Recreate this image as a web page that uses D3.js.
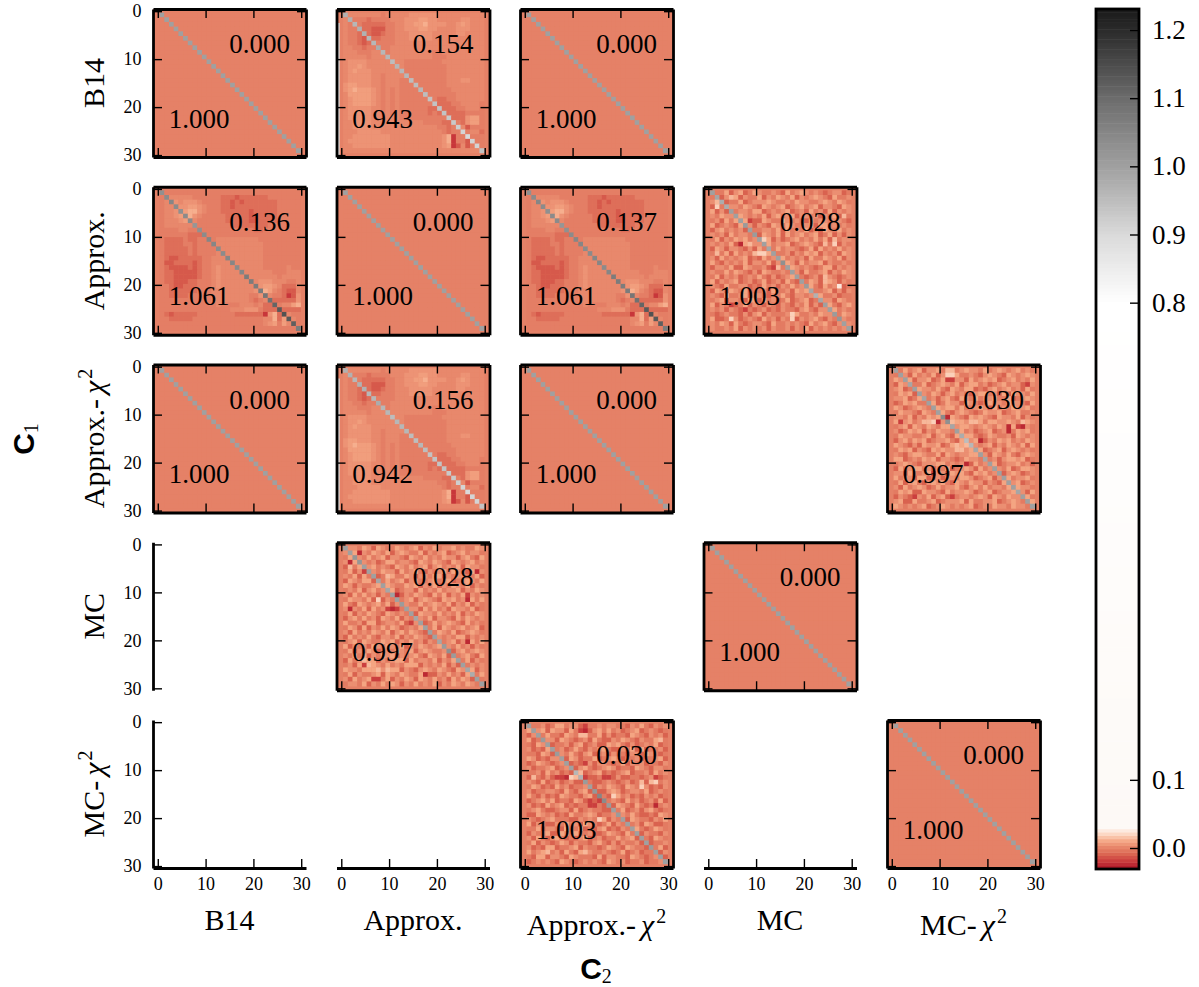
<!DOCTYPE html>
<html>
<head>
<meta charset="utf-8">
<script src="https://cdn.jsdelivr.net/npm/d3@7/dist/d3.min.js"></script>
<style>
html, body { margin: 0; padding: 0; background: #fff; }
svg { display: block; }
text { font-family: "Liberation Serif", serif; fill: #000; }
</style>
</head>
<body>
<script>
//============================================================
// Data
var names = ["B14", "Approx.", "Approx.-", "MC", "MC-"];
var hasChi = [false, false, true, false, true];
var tickValues = [0, 10, 20, 30];
var barTicks = [0, 0.1, 0.8, 0.9, 1.0, 1.1, 1.2];

// digit in a row string -> off-diagonal value
var noisyLevels = [-0.03, -0.024, -0.018, -0.01, -0.002, 0.004, 0.01, 0.014, 0.019, 0.025];
var smoothLevels = [-0.03, -0.02, -0.012, -0.006, -0.001, 0.002, 0.005, 0.008, 0.012, 0.02];

var approxB14Rows = [
"55555 55545 55556 66666 55555 55555",
"55444 34444 55566 67766 55555 66555",
"54443 33334 45566 77866 66556 76555",
"54433 32224 45566 67766 55556 66555",
"54433 32234 45556 66665 55556 65555",
"54432 23344 45556 66665 55555 55555",
"54432 33444 45555 55555 55555 55555",
"55443 44544 55555 55555 55555 55555",
"55544 45554 55555 55554 45555 55555",
"55555 45555 55555 55554 44555 55555",
"56666 55555 55544 44444 45555 55555",
"56676 55555 55544 44444 44555 55555",
"56766 65555 55544 44444 44555 55555",
"56666 65545 55544 44444 44555 55555",
"56666 65545 55444 44444 44555 66555",
"67766 65545 55444 44444 44555 55555",
"67877 76545 45444 44444 44455 55555",
"57777 76545 45444 44444 44445 55555",
"56777 76545 45444 44444 33445 55555",
"56777 76545 45444 44443 33344 55554",
"56666 65545 45444 44433 43334 45554",
"56666 65545 45444 44434 34333 34444",
"56666 65545 55444 44444 44333 36774",
"55666 65555 55555 55444 43324 36774",
"55666 65555 55555 55555 44344 52444",
"55566 66655 55555 55555 54344 54553",
"55666 66666 55555 55555 56814 45444",
"56666 66666 55555 55555 56814 42444",
"55666 66666 55555 55555 56712 52444",
"55555 55555 55555 55555 55555 55555"
];

var b14ApproxRows = [
"44444 44444 44444 44444 44444 44444",
"44555 55444 44433 32333 33344 44444",
"45565 66654 44433 23233 33333 44444",
"45566 67765 44433 23333 33333 44444",
"45566 78865 44433 33332 33333 44444",
"45567 88654 44443 33332 23333 44444",
"45556 76544 44443 33332 23333 44444",
"45555 55444 44444 33333 33344 44444",
"44445 54434 44444 44444 33444 44444",
"44444 43334 44444 44444 44444 44444",
"43333 43344 44555 55555 54444 44444",
"43333 44344 44555 55555 55444 44444",
"43333 34344 44555 55555 55444 44444",
"43333 34344 44555 55555 55444 44444",
"43223 33334 45555 55555 55444 44444",
"42233 33234 45555 55555 55444 44444",
"43222 23234 45655 55555 55444 44544",
"43322 22234 45655 55555 55554 44555",
"43322 22234 45655 55555 55555 45555",
"43322 23344 45655 55555 56665 55445",
"44322 33344 45655 55555 66776 53335",
"44333 33344 45555 55555 67875 43225",
"44333 34444 45555 55554 46754 43126",
"44444 44444 45555 55554 34543 33336",
"44444 44444 44544 44555 45333 45578",
"44444 44444 44444 55566 64333 33333",
"43233 33344 44444 43333 33168 37544",
"44333 33444 44444 44444 44558 37454",
"44444 44444 44444 44444 44567 47544",
"44444 44444 44444 44444 44444 44444"
];

var chiMcRows = [
"54645 63556 47745 65546 45654 56454",
"45536 45463 58864 45435 65436 54565",
"65463 55634 62255 36456 56345 64546",
"36554 46345 65463 56645 34564 55325",
"56345 65546 43654 66343 56456 45364",
"46563 35465 35645 43566 45363 65546",
"55634 66453 56436 54645 56446 34565",
"34656 44563 46553 65434 65546 55436",
"65345 65436 56646 44565 36454 65564",
"46554 36545 64356 54346 55634 56445",
"55463 54656 41654 36565 43655 46354",
"62564 57781 55766 57764 66556 54765",
"45636 54654 66456 65456 54651 62154",
"53465 63546 55436 45345 63451 46564",
"46554 45635 64365 66434 65445 36545",
"35646 56345 56436 45613 54656 45465",
"65435 36556 34676 76545 63546 54636",
"46563 54365 65577 56463 45635 65454",
"54356 65446 36545 56645 36546 43565",
"66345 46563 55434 65546 45356 65634",
"45654 35556 64545 13645 66345 56453",
"36456 64535 46345 65364 54546 34665",
"55364 45625 53656 43656 45635 65345",
"64553 66345 35546 65345 63546 45564",
"46356 43565 64365 46553 54365 56345",
"53645 65346 45564 35646 45546 36554",
"46563 36554 36455 65345 63455 64536",
"35432 54635 63245 54565 36546 55364",
"56336 44563 45556 36445 56345 65446",
"65454 56345 65454 56345 46554 65545"
];

var mcChiRows = [
"54453 46645 53244 54554 43546 43545",
"65563 65536 42135 64645 34563 45434",
"35546 44365 47744 63534 43654 35453",
"63445 53654 34536 43354 65435 44674",
"43654 34453 56345 33656 43534 54634",
"53436 64534 64354 56433 54636 34453",
"44365 33546 43563 45354 43553 65434",
"65343 55436 53446 34565 34453 44563",
"34654 34563 43253 55434 63545 34435",
"53445 63454 35643 45653 44365 43554",
"44536 45343 37345 63434 56344 53645",
"37435 32218 74233 42235 33443 45234",
"54363 45345 33543 34543 45347 37845",
"46534 36453 44563 54654 36548 53435",
"53445 54364 35634 33565 34554 63454",
"64353 43654 43563 54386 45343 54534",
"34564 63443 65323 23454 36453 45363",
"53436 45634 34422 43536 54364 34145",
"45643 34553 63454 43354 63453 56434",
"33654 53436 44565 34453 54643 34365",
"54345 64443 35454 86354 33654 43546",
"63543 35464 53654 34635 45453 65334",
"44635 54374 46343 56343 54364 34654",
"35446 33654 64453 34654 36453 54435",
"53643 56434 35634 53446 45634 43654",
"46354 34653 54435 64353 54453 63445",
"53436 63445 63544 34654 36544 35463",
"64567 45364 36754 45434 63453 44635",
"43663 55436 54443 63554 43654 34553",
"34545 43654 34545 43654 53445 34454"
];

var mcApproxRows = [
"45546 53654 46545 63546 45564 54465",
"54615 46546 35654 46354 56345 64554",
"46354 64563 55436 54645 46553 56436",
"51635 45346 64554 36546 54365 45645",
"37465 56454 36546 45635 64546 36554",
"46352 25465 53645 64354 56465 43615",
"54636 45347 64465 35546 63545 54463",
"36546 63546 45635 54456 45634 56546",
"65354 45636 54465 63546 35465 46354",
"45463 56454 63455 36454 64556 35465",
"53646 45354 61354 65436 46354 62545",
"46554 63835 45456 35654 36564 51646",
"64365 45646 35654 46456 54635 46354",
"51546 36452 12465 53646 45365 54634",
"46354 65436 54546 36554 64546 35465",
"35646 45365 46354 65463 55436 46545",
"64453 66345 54632 55346 45654 36454",
"46536 35464 65345 46546 36545 64563",
"53645 46546 35646 54354 65463 45654",
"36454 64355 46354 65436 54546 63545",
"45636 54465 63546 45354 64563 51646",
"63545 36546 54635 46545 63546 45354",
"46354 65345 46546 35654 45635 64565",
"54646 35465 63545 64365 46354 56436",
"36457 66354 56636 45546 35465 46354",
"45362 76546 45466 63545 46353 64545",
"65546 66757 66354 35654 65436 54635",
"46354 45636 54654 46133 54645 36546",
"53645 62246 35465 36546 45364 65354",
"45546 35464 65354 64546 35465 46545"
];

var approxMcRows = [
"54463 56346 54454 36456 54543 45534",
"45357 63544 63546 54635 45654 36445",
"57634 46345 55654 45465 54456 54654",
"38465 54654 36545 63456 45635 54365",
"63534 45546 63454 56345 36453 63545",
"54655 76545 46356 45635 54535 46374",
"45364 65623 36544 65454 36455 45543",
"63454 36453 54365 46544 56366 45454",
"35645 45364 45546 36454 63536 54645",
"54536 45546 36546 36456 45634 63535",
"46354 65645 38635 34564 54646 37455",
"54546 31675 54645 56345 65437 48354",
"36535 54353 64346 45543 46364 54645",
"47463 64547 88634 45354 65635 45365",
"53645 45634 36453 64545 36446 54635",
"64354 54635 54635 36536 45563 54454",
"35546 33654 45327 44654 54346 63545",
"54464 65435 36544 54353 64456 35465",
"46354 53454 64353 45654 34537 54345",
"63545 63453 46345 36435 46537 65354",
"54364 45534 36453 54645 36436 45934",
"36546 54634 45364 45365 63445 63535",
"54364 45635 54354 64355 45364 45344",
"45635 54366 36453 46345 63445 53654",
"63542 34635 43543 54354 63534 64356",
"54535 43243 45343 54435 64355 36454",
"43454 43535 63544 45864 45465 53465",
"63348 53454 36453 54835 45643 54354",
"54653 64345 54364 45454 36456 43535",
"54454 63545 45354 45354 63545 45454"
];

// diagonals
var diagOne = [1,1,1,1,1,1,1,1,1,1,1,1,1,1,1,1,1,1,1,1,1,1,1,1,1,1,1,1,1,1];
var diagApproxB14 = [0.97,0.97,0.96,0.97,0.97,0.96,0.96,0.98,0.96,0.96,0.95,0.96,0.96,0.96,0.95,0.95,0.96,0.95,0.94,0.94,0.94,0.94,0.93,0.93,0.92,0.91,0.90,0.91,0.91,0.94];
var diagB14Approx = [1.03,1.04,1.05,1.04,1.03,1.04,1.04,1.02,1.03,1.04,1.05,1.05,1.04,1.04,1.05,1.05,1.04,1.05,1.07,1.07,1.07,1.07,1.08,1.09,1.11,1.13,1.14,1.13,1.12,1.07];
var diagChiMc = [1.0,1.0,1.0,0.99,1.0,1.0,0.99,1.0,1.0,1.0,1.04,1.03,0.99,1.0,0.98,0.95,0.96,0.99,1.0,0.99,1.0,1.0,1.0,1.0,1.0,1.0,0.99,1.0,1.0,1.0];
var diagMcChi = [1.0,1.0,1.0,1.01,1.0,1.0,1.01,1.0,1.0,1.0,0.96,0.97,1.01,1.0,1.02,1.05,1.04,1.01,1.0,1.01,1.0,1.0,1.0,1.0,1.0,1.0,1.01,1.0,1.0,1.0];
var diagMcApprox = [1.0,1.0,1.02,1.02,1.0,1.0,1.0,0.99,1.0,0.99,1.0,1.0,1.01,1.0,1.0,0.99,1.0,1.0,1.0,1.0,0.99,1.01,1.03,1.01,1.0,1.0,0.99,0.98,1.0,1.0];
var diagApproxMc = [1.0,0.99,0.98,0.98,1.0,1.0,1.0,1.01,1.0,1.01,1.0,1.0,0.99,1.0,1.0,1.03,1.0,1.0,1.0,1.0,1.01,0.99,0.97,0.99,1.0,1.0,1.01,1.02,1.0,1.0];

// [row, col, upper number, lower number, rows, diagonal, levels, left strip value]
var panels = [
  [0, 0, "0.000", "1.000", null, diagOne, smoothLevels, null],
  [0, 1, "0.154", "0.943", approxB14Rows, diagApproxB14, smoothLevels, 0.9],
  [0, 2, "0.000", "1.000", null, diagOne, smoothLevels, null],
  [1, 0, "0.136", "1.061", b14ApproxRows, diagB14Approx, smoothLevels, null],
  [1, 1, "0.000", "1.000", null, diagOne, smoothLevels, null],
  [1, 2, "0.137", "1.061", b14ApproxRows, diagB14Approx, smoothLevels, null],
  [1, 3, "0.028", "1.003", approxMcRows, diagApproxMc, noisyLevels, null],
  [2, 0, "0.000", "1.000", null, diagOne, smoothLevels, null],
  [2, 1, "0.156", "0.942", approxB14Rows, diagApproxB14, smoothLevels, 0.9],
  [2, 2, "0.000", "1.000", null, diagOne, smoothLevels, null],
  [2, 4, "0.030", "0.997", chiMcRows, diagChiMc, noisyLevels, null],
  [3, 1, "0.028", "0.997", mcApproxRows, diagMcApprox, noisyLevels, null],
  [3, 3, "0.000", "1.000", null, diagOne, smoothLevels, null],
  [4, 2, "0.030", "1.003", mcChiRows, diagMcChi, noisyLevels, null],
  [4, 4, "0.000", "1.000", null, diagOne, smoothLevels, null]
];

//============================================================
// Layout
var width = 1199, height = 987;
var panelW = 153, panelH = 148;
var colX = d3.scaleLinear().domain([0, 4]).range([153, 887]);
var rowY = d3.scaleLinear().domain([0, 4]).range([9, 720]);

var color = d3.scaleLinear()
  .domain([-0.032, -0.02, -0.01, 0, 0.01, 0.02, 0.03, 0.8, 0.9, 1.0, 1.1, 1.2, 1.23])
  .range(["#a50f25", "#c8363a", "#d9624f", "#e58167", "#f4a582", "#fcd5bf", "#fdf9f6", "#ffffff", "#dadada", "#a0a0a0", "#6c6c6c", "#2b2b2b", "#1a1a1a"])
  .clamp(true);

var svg = d3.select("body")
  .append("svg")
  .attr("width", width)
  .attr("height", height);

// axis scales, same for each panel
var x = d3.scaleLinear().domain([-1, 31]).range([0, panelW]);
var y = d3.scaleLinear().domain([-0.45, 30.4]).range([0, panelH]);
// image cells
var cellX = d3.scaleBand().domain(d3.range(30)).range([6.6, 147.6]);
var cellY = d3.scaleBand().domain(d3.range(30)).range([3.6, 143.9]);

function cellValue(p, r, c) {
  if (r == c) return p[5][r];
  if (!p[4]) return 0;
  return p[6][+p[4][r].replace(/ /g, "")[c]];
}

//============================================================
// Panels
function drawFrame(g, sides) {
  sides.forEach(function (side) {
    var axis;
    if (side == "left") axis = d3.axisLeft(y).tickPadding(11.5);
    if (side == "right") axis = d3.axisRight(y);
    if (side == "top") axis = d3.axisTop(x);
    if (side == "bottom") axis = d3.axisBottom(x).tickPadding(9);
    axis.tickValues(tickValues).tickSizeOuter(0).tickSizeInner(-9);
    var ax = g.append("g").attr("class", "axis " + side);
    if (side == "right") ax.attr("transform", "translate(" + panelW + ",0)");
    if (side == "bottom") ax.attr("transform", "translate(0," + panelH + ")");
    ax.call(axis);
    ax.selectAll("path").attr("stroke", "#000").attr("stroke-width", 2.8).attr("fill", "none");
    ax.selectAll("line").attr("stroke", "#000").attr("stroke-width", 1.4);
    ax.selectAll("text").attr("font-size", 18).attr("fill", "#000").attr("font-family", "Liberation Serif");
    if (side == "right" || side == "top") ax.selectAll("text").remove();
  });
}

panels.forEach(function (p) {
  var g = svg.append("g")
    .attr("transform", "translate(" + colX(p[1]) + "," + rowY(p[0]) + ")");

  g.append("rect")
    .attr("width", panelW)
    .attr("height", panelH)
    .attr("fill", color(0));

  d3.range(30).forEach(function (r) {
    g.selectAll("rect.r" + r)
      .data(d3.range(30))
      .enter()
      .append("rect")
      .attr("class", "r" + r)
      .attr("x", function (c) { return cellX(c); })
      .attr("y", cellY(r))
      .attr("width", cellX.bandwidth() + 0.3)
      .attr("height", cellY.bandwidth() + 0.3)
      .attr("fill", function (c) { return color(cellValue(p, r, c)); });
  });

  if (p[7] !== null) {
    g.append("rect")
      .attr("x", 1.2).attr("y", 14).attr("width", 2).attr("height", panelH - 16)
      .attr("fill", color(p[7]));
  }

  g.append("text").attr("x", 106.5).attr("y", 44)
    .attr("text-anchor", "middle").attr("font-size", 27).text(p[2]);
  g.append("text").attr("x", 46).attr("y", 118.5)
    .attr("text-anchor", "middle").attr("font-size", 27).text(p[3]);

  drawFrame(g, ["top", "right", "left", "bottom"]);
  // tick numbers only on the outer edge
  if (p[1] != 0) g.selectAll(".left text").remove();
  if (p[0] != 4) g.selectAll(".bottom text").remove();
});

// Axes left over where a panel is missing
[3, 4].forEach(function (r) {
  var g = svg.append("g").attr("transform", "translate(" + colX(0) + "," + rowY(r) + ")");
  drawFrame(g, ["left"]);
});
[0, 1, 3].forEach(function (c) {
  var g = svg.append("g").attr("transform", "translate(" + colX(c) + "," + rowY(4) + ")");
  drawFrame(g, ["bottom"]);
});

//============================================================
// Labels
function addName(sel, i) {
  sel.append("tspan").text(names[i]);
  if (hasChi[i]) {
    sel.append("tspan").attr("font-style", "italic").attr("dx", 5).text("\u03c7");
    sel.append("tspan").attr("font-size", 20).attr("dx", 2).attr("dy", -12).text("2");
  }
}

names.forEach(function (n, i) {
  var xl = svg.append("text")
    .attr("x", colX(i) + panelW / 2)
    .attr("y", hasChi[i] ? 935 : 930)
    .attr("text-anchor", "middle")
    .attr("font-size", 30);
  addName(xl, i);

  var yl = svg.append("text")
    .attr("transform", "translate(104," + (rowY(i) + panelH / 2) + ") rotate(-90)")
    .attr("text-anchor", "middle")
    .attr("font-size", 30);
  addName(yl, i);
});

var cy = svg.append("text")
  .attr("transform", "translate(34,439) rotate(-90)")
  .attr("text-anchor", "middle")
  .attr("font-size", 30)
  .attr("font-weight", "bold")
  .style("font-family", "Liberation Sans");
cy.append("tspan").text("C");
cy.append("tspan").attr("font-size", 20).attr("font-weight", "normal").attr("dy", 4)
  .style("font-family", "Liberation Serif").text("1");

var cx = svg.append("text")
  .attr("x", 596).attr("y", 979)
  .attr("text-anchor", "middle")
  .attr("font-size", 30)
  .attr("font-weight", "bold")
  .style("font-family", "Liberation Sans");
cx.append("tspan").text("C");
cx.append("tspan").attr("font-size", 20).attr("font-weight", "normal").attr("dy", 4)
  .style("font-family", "Liberation Serif").text("2");

//============================================================
// Colorbar
var barY = d3.scaleLinear().domain([0, 1.2]).range([848, 30]);
var barLo = barY.invert(869), barHi = barY.invert(9);
var barSteps = d3.range(256);
var bar = svg.append("g");

bar.selectAll("rect")
  .data(barSteps)
  .enter()
  .append("rect")
  .attr("x", 1096)
  .attr("width", 43)
  .attr("y", function (d) { return barY(barLo + (d + 1) / 256 * (barHi - barLo)); })
  .attr("height", (869 - 9) / 256 + 0.5)
  .attr("fill", function (d) { return color(barLo + (d + 0.5) / 256 * (barHi - barLo)); });

bar.append("rect")
  .attr("x", 1096).attr("y", 9).attr("width", 43).attr("height", 860)
  .attr("fill", "none").attr("stroke", "#000").attr("stroke-width", 2.8);

var barAxis = svg.append("g")
  .attr("transform", "translate(1139,0)")
  .call(d3.axisRight(barY).tickValues(barTicks).tickSizeOuter(0).tickSizeInner(-9).tickPadding(13).tickFormat(d3.format(".1f")));
barAxis.select("path").remove();
barAxis.selectAll("line").attr("stroke", "#000").attr("stroke-width", 1.4);
barAxis.selectAll("text").attr("font-size", 27).attr("fill", "#000").attr("font-family", "Liberation Serif");
</script>
</body>
</html>
